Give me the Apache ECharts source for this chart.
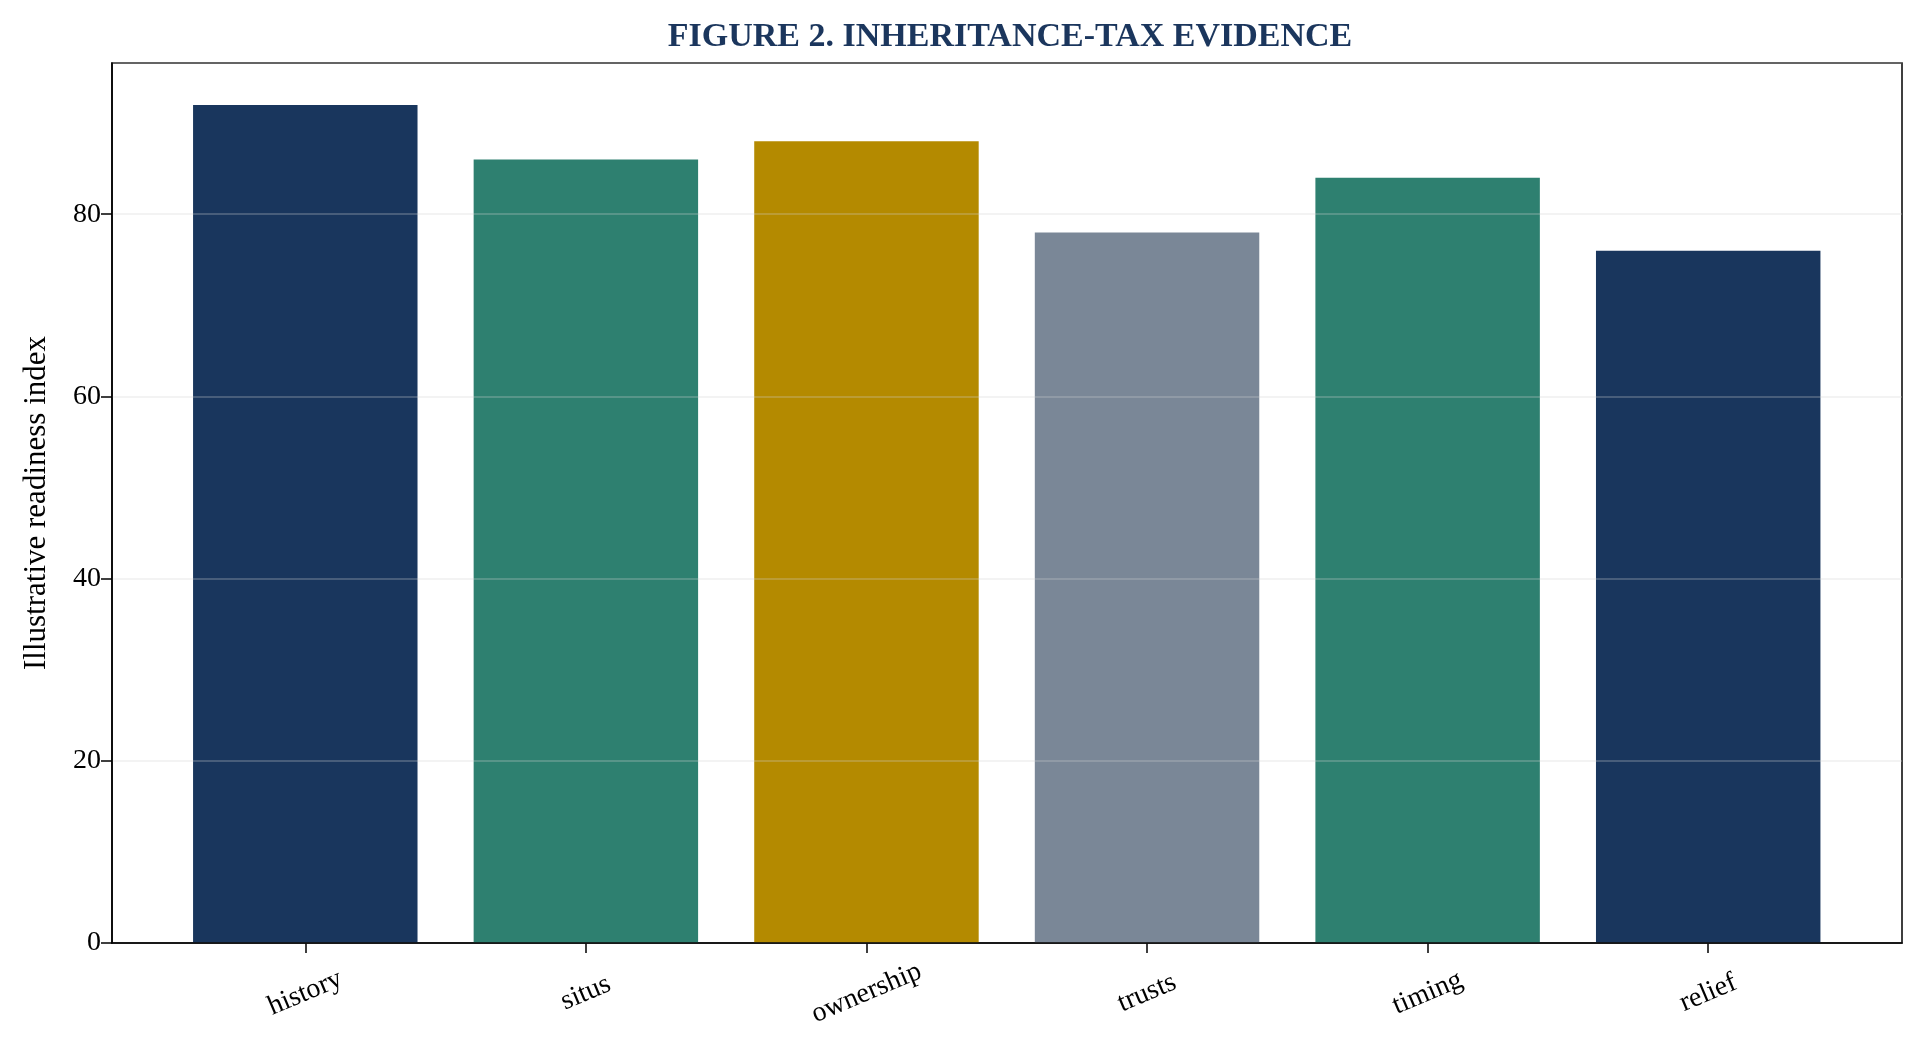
<!DOCTYPE html>
<html>
<head>
<meta charset="utf-8">
<script src="https://cdn.jsdelivr.net/npm/echarts@6/dist/echarts.min.js"></script>
<style>
  html, body { margin: 0; padding: 0; background: #fff; }
  #chart { width: 1924px; height: 1055px; }
</style>
</head>
<body>
<div id="chart"></div>
<script>
// data
var categories = ['history', 'situs', 'ownership', 'trusts', 'timing', 'relief'];
var readiness = [92, 86, 88, 78, 84, 76];
var barColors = ['#19365d', '#2e8070', '#b48a00', '#7a8797', '#2e8070', '#19365d'];
var yTicks = [0, 20, 40, 60, 80];

var FONT = 'Liberation Serif';
var yMax = 96.6;

var chart = echarts.init(document.getElementById('chart'));

// grid 0 holds the bars (category bands matched to the frame), grid 1 is the frame + y axis
var option = {
  backgroundColor: '#fff',
  animation: false,
  title: {
    text: 'FIGURE 2. INHERITANCE-TAX EVIDENCE',
    left: 1005,
    top: 15,
    textAlign: 'center',
    textStyle: { fontFamily: FONT, fontSize: 34, fontWeight: 'bold', color: '#1b365d' }
  },
  grid: [
    { left: 165, right: 75.5, top: 63, bottom: 112 },
    { left: 112, right: 22, top: 63, bottom: 112, show: true, borderColor: '#000', borderWidth: 1.5, backgroundColor: 'transparent' }
  ],
  xAxis: [
    {
      gridIndex: 0,
      type: 'category',
      data: categories,
      axisLine: { show: false },
      axisTick: { show: true, alignWithLabel: true, length: 10, lineStyle: { color: '#000', width: 1.5 } },
      axisLabel: {
        rotate: 23,
        align: 'center',
        verticalAlign: 'middle',
        margin: 50,
        fontFamily: FONT,
        fontSize: 28,
        color: '#000'
      },
      splitLine: { show: false }
    },
    {
      gridIndex: 1,
      type: 'value',
      min: 0,
      max: 1,
      z: 10,
      axisLine: { show: true, lineStyle: { color: '#000', width: 1.5 } },
      axisTick: { show: false },
      axisLabel: { show: false },
      splitLine: { show: false }
    }
  ],
  yAxis: [
    {
      gridIndex: 0,
      type: 'value',
      min: 0,
      max: yMax,
      show: false,
      splitLine: { show: false }
    },
    {
      gridIndex: 1,
      type: 'value',
      min: 0,
      max: yMax,
      interval: 20,
      z: 5,
      name: 'Illustrative readiness index',
      nameLocation: 'middle',
      nameGap: 60,
      nameTextStyle: { fontFamily: FONT, fontSize: 31, color: '#000' },
      axisLine: { show: true, lineStyle: { color: '#000', width: 1.5 } },
      axisTick: { show: true, length: 11, lineStyle: { color: '#000', width: 1.5 } },
      axisLabel: {
        showMaxLabel: false,
        margin: 11,
        fontFamily: FONT,
        fontSize: 28,
        color: '#000',
        formatter: function (v) { return yTicks.indexOf(v) >= 0 ? String(v) : ''; }
      },
      splitLine: { show: true, lineStyle: { color: 'rgba(205,205,205,0.35)', width: 1.5 } }
    }
  ],
  series: [
    {
      type: 'bar',
      xAxisIndex: 0,
      yAxisIndex: 0,
      barWidth: '80%',
      z: 2,
      data: readiness.map(function (v, i) {
        return { value: v, itemStyle: { color: barColors[i] } };
      })
    }
  ]
};

chart.setOption(option);
</script>
</body>
</html>
